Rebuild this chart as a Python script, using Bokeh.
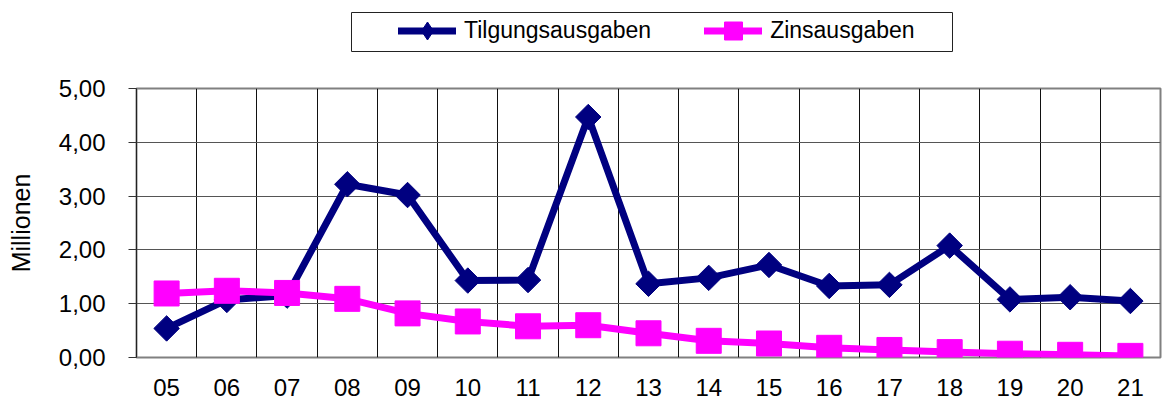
import math
from bokeh.plotting import figure
from bokeh.layouts import column
from bokeh.models import (Range1d, FixedTicker, Legend, LegendItem, ColumnDataSource,
                          BoxAnnotation)
from bokeh.embed import file_html
from bokeh.resources import INLINE

# ---- data ----
years = ["05", "06", "07", "08", "09", "10", "11", "12", "13",
         "14", "15", "16", "17", "18", "19", "20", "21"]
tilgung = [0.54, 1.07, 1.15, 3.22, 3.02, 1.43, 1.44, 4.47, 1.37,
           1.48, 1.72, 1.33, 1.35, 2.08, 1.08, 1.12, 1.05]
zins = [1.19, 1.24, 1.20, 1.09, 0.82, 0.67, 0.58, 0.60, 0.45,
        0.31, 0.26, 0.18, 0.14, 0.10, 0.07, 0.05, 0.03]
y_ticks = [0, 1, 2, 3, 4, 5]
y_tick_labels = ["0,00", "1,00", "2,00", "3,00", "4,00", "5,00"]
series_names = ["Tilgungsausgaben", "Zinsausgaben"]

FONT = "Liberation Sans"
NAVY = "#000080"
MAGENTA = "#FF00FF"

xpos = list(range(1, len(years) + 1))
src = ColumnDataSource(dict(x=xpos, tilgung=tilgung, zins=zins))

TOTAL_W = 1165
LEG_H = 56
MAIN_H = 350
BORDER_L = 136
BORDER_R = 5

# ---------------- main chart ----------------
p = figure(width=TOTAL_W, height=MAIN_H, output_backend="svg", toolbar_location=None,
           x_range=Range1d(0.5, len(years) + 0.5), y_range=Range1d(0, 5),
           min_border_left=BORDER_L, min_border_right=BORDER_R, min_border_top=32,
           min_border_bottom=49)
p.background_fill_color = "white"
p.border_fill_color = "white"
p.outline_line_color = "#808080"
p.outline_line_width = 2

# y axis
p.yaxis.ticker = FixedTicker(ticks=y_ticks)
p.yaxis.major_label_overrides = {t: l for t, l in zip(y_ticks, y_tick_labels)}
p.yaxis.major_tick_out = 8
p.yaxis.major_tick_in = 0
p.yaxis.major_tick_line_color = "#333333"
p.yaxis.minor_tick_line_color = None
p.yaxis.axis_line_color = "#222222"
p.yaxis.major_label_standoff = 23
p.yaxis.major_label_text_font = FONT
p.yaxis.major_label_text_font_size = "24px"
p.yaxis.major_label_text_color = "black"
p.yaxis.axis_label = "Millionen"
p.yaxis.axis_label_text_font = FONT
p.yaxis.axis_label_text_font_size = "25px"
p.yaxis.axis_label_text_font_style = "normal"
p.yaxis.axis_label_text_color = "black"
p.yaxis.axis_label_standoff = 21

# x axis
p.xaxis.ticker = FixedTicker(ticks=xpos)
p.xaxis.major_label_overrides = {x: y for x, y in zip(xpos, years)}
p.xaxis.major_tick_out = 0
p.xaxis.major_tick_in = 0
p.xaxis.minor_tick_line_color = None
p.xaxis.axis_line_color = None
p.xaxis.major_label_standoff = 21
p.xaxis.major_label_text_font = FONT
p.xaxis.major_label_text_font_size = "24px"
p.xaxis.major_label_text_color = "black"

# grids
p.ygrid.ticker = FixedTicker(ticks=y_ticks)
p.ygrid.grid_line_color = "#555555"
p.ygrid.grid_line_width = 1
p.xgrid.ticker = FixedTicker(ticks=[x + 0.5 for x in xpos[:-1]])
p.xgrid.grid_line_color = "#111111"
p.xgrid.grid_line_width = 1

# series
line_kw = dict(line_width=7, line_join="round", line_cap="round")
p.line("x", "tilgung", source=src, line_color=NAVY, **line_kw)
p.scatter("x", "tilgung", source=src, marker="square", size=18,
          angle=math.pi / 4, fill_color=NAVY, line_color=NAVY)
p.line("x", "zins", source=src, line_color=MAGENTA, **line_kw)
p.scatter("x", "zins", source=src, marker="square", size=25,
          fill_color=MAGENTA, line_color=MAGENTA)

# ---------------- legend strip ----------------
q = figure(width=TOTAL_W, height=LEG_H, output_backend="svg", toolbar_location=None,
           x_axis_location=None, y_axis_location=None,
           min_border_left=BORDER_L, min_border_right=BORDER_R,
           min_border_top=0, min_border_bottom=0)
q.grid.visible = False
q.background_fill_color = "white"
q.border_fill_color = "white"
q.outline_line_color = None

box = BoxAnnotation(left=351, right=952, top=12, bottom=51,
                    left_units="canvas", right_units="canvas",
                    top_units="canvas", bottom_units="canvas",
                    fill_alpha=0, line_color="#222222", line_alpha=1, line_width=1)
q.add_layout(box)

ql1 = q.line("x", "tilgung", source=src, line_color=NAVY, visible=False, **line_kw)
qs1 = q.scatter("x", "tilgung", source=src, marker="diamond", size=18,
                fill_color=NAVY, line_color=NAVY, visible=False)
ql2 = q.line("x", "zins", source=src, line_color=MAGENTA, visible=False, **line_kw)
qs2 = q.scatter("x", "zins", source=src, marker="square", size=25,
                fill_color=MAGENTA, line_color=MAGENTA, visible=False)

legend = Legend(items=[LegendItem(label=series_names[0], renderers=[ql1, qs1]),
                       LegendItem(label=series_names[1], renderers=[ql2, qs2])],
                orientation="horizontal", location=(262, 3), padding=0,
                spacing=53, glyph_width=58, glyph_height=45, label_standoff=8,
                label_text_font=FONT, label_text_font_size="23px",
                label_text_color="black", inactive_fill_alpha=0,
                border_line_color=None, background_fill_alpha=0)
q.add_layout(legend)

layout = column(q, p, spacing=0)
open("out.html", "w").write(file_html(layout, INLINE))
